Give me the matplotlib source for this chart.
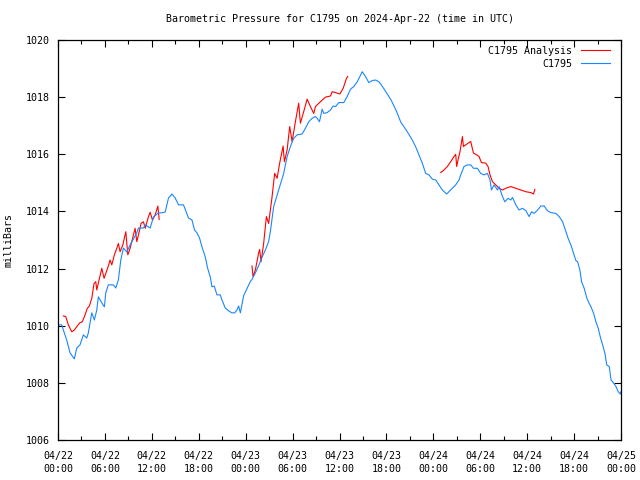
import matplotlib
matplotlib.use('Agg')
import matplotlib.pyplot as plt
import matplotlib.dates as mdates
import pandas as pd

START = pd.Timestamp('2024-04-22 00:00')

# station observations (hours since start, mbar)
obs_hours = [
    0.0, 0.47, 1.11, 1.54, 2.09, 2.40, 2.82, 3.24, 3.68, 3.88, 4.32, 4.65, 4.96, 5.16, 5.60,
    5.93, 6.11, 6.44, 7.08, 7.39, 7.72, 8.03, 8.37, 8.80, 9.22, 10.08, 10.29, 10.93, 11.15,
    11.79, 12.21, 12.85, 13.28, 13.71, 14.13, 14.57, 14.99, 15.41, 16.05, 16.69, 17.13, 17.46,
    17.77, 18.10, 18.41, 18.83, 19.13, 19.47, 19.69, 19.98, 20.33, 20.75, 20.97, 21.39, 21.82,
    22.25, 22.59, 22.89, 23.10, 23.32, 23.74, 24.17, 24.60, 24.81, 25.24, 25.66, 26.10, 26.52,
    26.94, 27.16, 27.58, 28.22, 28.86, 29.30, 29.72, 30.14, 30.58, 31.22, 31.64, 32.07, 32.50,
    32.92, 33.14, 33.44, 33.78, 33.99, 34.42, 34.85, 35.19, 35.49, 35.91, 36.55, 36.98, 37.41,
    37.83, 38.27, 38.56, 38.91, 39.33, 39.75, 40.19, 40.61, 41.03, 41.30, 41.90, 42.60, 43.30,
    43.81, 44.67, 45.31, 45.73, 46.16, 46.59, 47.02, 47.44, 47.87, 48.30, 48.72, 49.15, 49.71,
    50.22, 50.86, 51.28, 51.50, 51.92, 52.36, 52.78, 53.13, 53.64, 54.06, 54.48, 54.92, 55.25,
    55.43, 55.77, 56.20, 56.41, 56.84, 57.14, 57.56, 57.90, 58.12, 58.55, 58.97, 59.40, 59.83,
    60.25, 60.56, 60.89, 61.33, 61.75, 62.17, 62.61, 63.03, 63.67, 64.09, 64.53, 64.95, 65.24,
    65.59, 65.94, 66.23, 66.45, 66.74, 66.96, 67.29, 67.64, 67.93, 68.15, 68.50, 68.79, 69.09,
    69.34, 69.65, 69.95, 70.17, 70.50, 70.72, 71.01, 71.36, 71.65, 71.91, 72.0,
]
obs_mbar = [
    1010.03, 1010.03, 1009.50, 1009.05, 1008.84, 1009.22, 1009.33, 1009.68, 1009.57, 1009.75,
    1010.45, 1010.20, 1010.55, 1011.01, 1010.80, 1010.66, 1011.15, 1011.43, 1011.43, 1011.32,
    1011.60, 1012.30, 1012.72, 1012.58, 1012.83, 1013.25, 1013.42, 1013.42, 1013.53, 1013.42,
    1013.81, 1013.95, 1013.95, 1013.98, 1014.47, 1014.61, 1014.47, 1014.23, 1014.23, 1013.77,
    1013.70, 1013.35, 1013.25, 1013.07, 1012.76, 1012.41, 1012.02, 1011.71, 1011.36, 1011.39,
    1011.08, 1011.08, 1010.90, 1010.62, 1010.52, 1010.45, 1010.45, 1010.55, 1010.69, 1010.45,
    1011.05, 1011.30, 1011.55, 1011.62, 1011.85, 1012.10, 1012.40, 1012.65, 1012.95, 1013.30,
    1014.17, 1014.75, 1015.33, 1015.92, 1016.27, 1016.56, 1016.68, 1016.71, 1016.91, 1017.14,
    1017.26, 1017.32, 1017.26, 1017.14, 1017.58, 1017.43, 1017.46, 1017.55, 1017.69, 1017.67,
    1017.81, 1017.81, 1018.02, 1018.28, 1018.37, 1018.54, 1018.70, 1018.89, 1018.72, 1018.51,
    1018.58, 1018.60, 1018.54, 1018.45, 1018.20, 1017.90, 1017.50, 1017.14, 1016.79, 1016.50,
    1016.27, 1015.98, 1015.69, 1015.33, 1015.28, 1015.13, 1015.10, 1014.93, 1014.75, 1014.61,
    1014.75, 1014.93, 1015.10, 1015.28, 1015.57, 1015.63, 1015.63, 1015.51, 1015.51, 1015.33,
    1015.28, 1015.33, 1015.10, 1014.75, 1014.93, 1014.75, 1014.87, 1014.52, 1014.34, 1014.46,
    1014.40, 1014.49, 1014.23, 1014.05, 1014.11, 1014.03, 1013.82, 1013.99, 1013.93, 1014.05,
    1014.19, 1014.19, 1014.02, 1013.96, 1013.93, 1013.82, 1013.64, 1013.29, 1013.06, 1012.83,
    1012.53, 1012.28, 1012.24, 1011.95, 1011.54, 1011.31, 1010.96, 1010.78, 1010.67, 1010.43,
    1010.14, 1009.91, 1009.62, 1009.33, 1009.03, 1008.63, 1008.57, 1008.10, 1008.01, 1007.87,
    1007.69, 1007.61, 1007.69,
]

# analysis runs, three separate pieces
ana1_hours = [
    0.68, 0.99, 1.32, 1.76, 2.09, 2.40, 2.82, 3.11, 3.46, 3.75, 4.01, 4.32, 4.61, 4.83, 4.96,
    5.25, 5.60, 5.89, 6.11, 6.44, 6.66, 6.88, 7.21, 7.52, 7.72, 7.94, 8.29, 8.67, 8.93, 9.22,
    9.65, 9.86, 10.08, 10.29, 10.63, 10.93, 11.15, 11.57, 11.79, 12.08, 12.43, 12.77, 12.94,
]
ana1_mbar = [
    1010.34, 1010.32, 1010.03, 1009.79, 1009.85, 1009.97, 1010.11, 1010.14, 1010.38, 1010.61,
    1010.69, 1010.96, 1011.48, 1011.54, 1011.25, 1011.60, 1012.01, 1011.66, 1011.83, 1012.09,
    1012.30, 1012.13, 1012.48, 1012.71, 1012.88, 1012.59, 1012.83, 1013.29, 1012.48, 1012.71,
    1013.18, 1013.41, 1012.94, 1013.18, 1013.58, 1013.64, 1013.41, 1013.82, 1013.97, 1013.70,
    1013.88, 1014.19, 1013.72,
]
ana2_hours = [
    24.81, 24.94, 25.24, 25.66, 25.79, 25.97, 26.30, 26.65, 26.94, 27.38, 27.71, 28.02, 28.35,
    28.79, 28.95, 29.30, 29.63, 29.94, 30.36, 30.78, 31.00, 31.42, 31.86, 32.28, 32.71, 32.92,
    33.56, 34.20, 34.85, 35.06, 35.49, 36.04, 36.47, 36.89, 37.06,
]
ana2_mbar = [
    1012.09, 1011.72, 1011.95, 1012.55, 1012.67, 1012.24, 1012.88, 1013.82, 1013.58, 1014.52,
    1015.33, 1015.16, 1015.69, 1016.29, 1015.74, 1016.15, 1016.97, 1016.44, 1017.14, 1017.79,
    1017.09, 1017.49, 1017.93, 1017.67, 1017.43, 1017.67, 1017.84, 1018.00, 1018.04, 1018.19,
    1018.16, 1018.11, 1018.31, 1018.66, 1018.72,
]
ana3_hours = [
    48.94, 49.36, 49.79, 50.22, 50.64, 50.86, 50.99, 51.15, 51.41, 51.72, 51.85, 52.14, 52.78,
    53.13, 53.55, 53.85, 54.15, 54.70, 55.00, 55.25, 55.56, 55.98, 56.41, 56.84, 57.26, 57.90,
    58.55, 59.19, 59.83, 60.47, 60.81, 60.98,
]
ana3_mbar = [
    1015.36, 1015.45, 1015.57, 1015.74, 1015.92, 1016.00, 1015.57, 1015.80, 1016.09, 1016.62,
    1016.27, 1016.33, 1016.45, 1016.04, 1015.98, 1015.92, 1015.71, 1015.69, 1015.57, 1015.28,
    1015.04, 1014.93, 1014.81, 1014.75, 1014.81, 1014.87, 1014.81, 1014.75, 1014.69, 1014.66,
    1014.61, 1014.77,
]


def to_times(hours):
    return START + pd.to_timedelta(hours, unit='h')


plt.rcParams['font.family'] = ['DejaVu Sans Mono']
FS = 7.2

fig = plt.figure(figsize=(6.4, 4.8), dpi=100)
ax = fig.add_axes([58 / 640, 40 / 480, 563 / 640, 400 / 480])

red = '#ff0000'
blue = '#1a86ff'
lw = 0.8

ax.plot(to_times(ana1_hours), ana1_mbar, color=red, lw=lw, label='C1795 Analysis')
ax.plot(to_times(ana2_hours), ana2_mbar, color=red, lw=lw)
ax.plot(to_times(ana3_hours), ana3_mbar, color=red, lw=lw)
ax.plot(to_times(obs_hours), obs_mbar, color=blue, lw=lw, label='C1795')

ax.set_xlim(START, START + pd.Timedelta(hours=72))
ax.set_ylim(1006, 1020)
ax.set_yticks(range(1006, 1021, 2))

ax.xaxis.set_major_locator(mdates.HourLocator(byhour=[0, 6, 12, 18]))
ax.xaxis.set_minor_locator(mdates.HourLocator(byhour=[3, 9, 15, 21]))
ax.xaxis.set_major_formatter(mdates.DateFormatter('%m/%d\n%H:%M'))

ax.tick_params(which='both', direction='in', top=True, right=True,
               labelsize=FS, width=0.8, color='black')
ax.tick_params(which='major', length=5, pad=6)
ax.tick_params(axis='x', which='major', pad=8)
ax.tick_params(which='minor', length=3)
for lab in ax.get_xticklabels():
    lab.set_linespacing(1.3)
for sp in ax.spines.values():
    sp.set_linewidth(0.9)

ax.set_ylabel('milliBars', fontsize=FS, labelpad=9)
ax.set_title('Barometric Pressure for C1795 on 2024-Apr-22 (time in UTC)',
             fontsize=FS, pad=13)

ax.legend(loc='upper right', frameon=False, markerfirst=False, fontsize=FS,
          handlelength=2.9, handletextpad=0.9, labelspacing=0.3,
          borderaxespad=0.2, bbox_to_anchor=(0.992, 1.0))

fig.savefig('out.png', dpi=100)
